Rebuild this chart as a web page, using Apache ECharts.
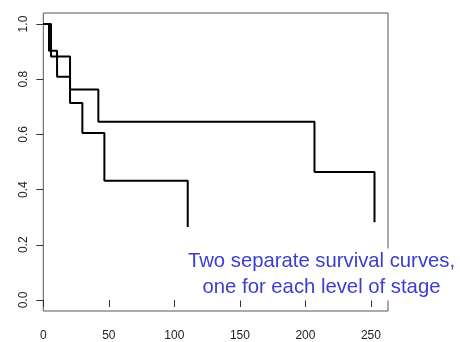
<!DOCTYPE html>
<html>
<head>
<meta charset="utf-8">
<script src="https://cdn.jsdelivr.net/npm/echarts@6/dist/echarts.min.js"></script>
<style>html,body{margin:0;padding:0;background:#fff}#c{width:460px;height:342px}</style>
</head>
<body>
<div id="c"></div>
<script>
// Kaplan-Meier step curves: [time, survival after drop]
var stage1Times = [0, 5.9, 20.4, 42.0, 206.9, 252.7];
var stage1Surv  = [1.0, 0.882, 0.763, 0.646, 0.464, 0.282];
var stage2Times = [0, 4.35, 10.5, 20.4, 29.8, 46.6, 110.2];
var stage2Surv  = [1.0, 0.903, 0.809, 0.714, 0.605, 0.432, 0.264];
var xTicks = [0, 50, 100, 150, 200, 250];
var yTicks = [0.0, 0.2, 0.4, 0.6, 0.8, 1.0];
var noteText = 'Two separate survival curves,\none for each level of stage';

function pairs(t, s) { return t.map(function (v, i) { return [v, s[i]]; }); }

var chart = echarts.init(document.getElementById('c'), null, {renderer: 'canvas'});
var font = 'Liberation Sans, Arial, Helvetica, sans-serif';
chart.setOption({
  animation: false,
  grid: {left: 43.3, right: 72, top: 13, bottom: 29.3, show: true, borderColor: '#555', borderWidth: 1, backgroundColor: 'transparent'},
  xAxis: {
    type: 'value', min: 0, max: 263,
    axisLine: {show: false},
    splitLine: {show: false},
    axisTick: {show: true, inside: false, length: 7, customValues: xTicks, lineStyle: {color: '#333', width: 1}},
    axisLabel: {customValues: xTicks, margin: 19, fontSize: 12, color: '#222', fontFamily: font}
  },
  yAxis: {
    type: 'value', min: -0.04, max: 1.04,
    axisLine: {show: false},
    splitLine: {show: false},
    axisTick: {show: true, inside: false, length: 7, customValues: yTicks, lineStyle: {color: '#333', width: 1}},
    axisLabel: {customValues: yTicks, rotate: 90, margin: 14, fontSize: 12, color: '#222', fontFamily: font,
      formatter: function (v) { return v.toFixed(1); }}
  },
  series: [
    {type: 'line', step: 'end', data: pairs(stage1Times, stage1Surv), symbol: 'none', lineStyle: {color: '#000', width: 2}},
    {type: 'line', step: 'end', data: pairs(stage2Times, stage2Surv), symbol: 'none', lineStyle: {color: '#000', width: 2}}
  ],
  graphic: [{
    type: 'text', x: 321.5, y: 274.5, z: 100,
    style: {
      text: noteText, align: 'center', verticalAlign: 'middle',
      fill: 'rgb(60,60,212)', font: '20.3px ' + font, lineHeight: 26,
      backgroundColor: '#fff', padding: [0, 4, 0, 4]
    }
  }]
});
</script>
</body>
</html>
